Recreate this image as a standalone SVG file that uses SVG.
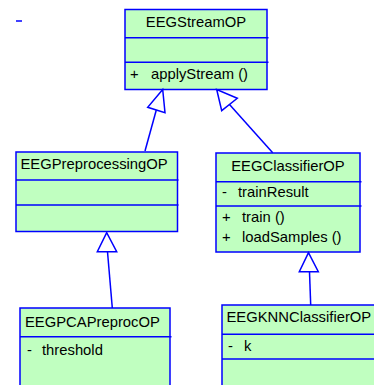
<svg xmlns="http://www.w3.org/2000/svg" width="374" height="385" viewBox="0 0 374 385">
<style>
.box{fill:#C0FFC0;stroke:#0000FF;stroke-width:1.5}
.div{stroke:#0000FF;stroke-width:1.5}
.t{font-family:"Liberation Sans",Arial,sans-serif;font-size:14.8px;fill:#000}
.c{stroke:#0000FF;stroke-width:1.5;fill:none}
.head{fill:#FFFFFF;stroke:#0000FF;stroke-width:1.5}
</style>
<rect width="374" height="385" fill="#FFFFFF"/>
<line x1="16" y1="21" x2="22" y2="21" stroke="#0000FF" stroke-width="1.5"/>
<g id="EEGStreamOP">
<rect class="box" x="125" y="9.5" width="142" height="80"/>
<line class="div" x1="125" y1="37.7" x2="268.5" y2="37.7"/>
<line class="div" x1="125" y1="62.3" x2="268.5" y2="62.3"/>
<text class="t" x="196" y="27" text-anchor="middle">EEGStreamOP</text>
<text class="t" x="130" y="78.5">+</text>
<text class="t" x="151" y="78.5">applyStream ()</text>
</g>
<g id="EEGPreprocessingOP">
<rect class="box" x="16" y="152" width="161.5" height="79.5"/>
<line class="div" x1="16" y1="180" x2="178.5" y2="180"/>
<line class="div" x1="16" y1="205" x2="178.5" y2="205"/>
<text class="t" x="20.5" y="168.5">EEGPreprocessingOP</text>
</g>
<g id="EEGClassifierOP">
<rect class="box" x="216" y="153" width="144" height="99"/>
<line class="div" x1="216" y1="181.7" x2="361.5" y2="181.7"/>
<line class="div" x1="216" y1="206" x2="361.5" y2="206"/>
<text class="t" x="288" y="170.5" text-anchor="middle">EEGClassifierOP</text>
<text class="t" x="222" y="197">-</text>
<text class="t" x="238" y="197">trainResult</text>
<text class="t" x="222" y="222">+</text>
<text class="t" x="242" y="222">train ()</text>
<text class="t" x="222" y="242">+</text>
<text class="t" x="242" y="242">loadSamples ()</text>
</g>
<g id="EEGPCAPreprocOP">
<rect class="box" x="20" y="308" width="150" height="90"/>
<line class="div" x1="20" y1="336.7" x2="171.5" y2="336.7"/>
<text class="t" x="25" y="327">EEGPCAPreprocOP</text>
<text class="t" x="27" y="354.5">-</text>
<text class="t" x="42" y="354.5">threshold</text>
</g>
<g id="EEGKNNClassifierOP">
<rect class="box" x="222" y="305" width="170" height="95"/>
<line class="div" x1="222" y1="334.3" x2="392" y2="334.3"/>
<line class="div" x1="222" y1="359" x2="392" y2="359"/>
<text class="t" x="226.5" y="322">EEGKNNClassifierOP</text>
<text class="t" x="228" y="350.5">-</text>
<text class="t" x="244" y="350.5">k</text>
</g>
<g id="connectors">
<line class="c" x1="145" y1="151" x2="156.3" y2="110"/>
<polygon class="head" points="162.7,89.5 147.7,107.3 165,112.7"/>
<line class="c" x1="272.7" y1="152.7" x2="229.5" y2="104.5"/>
<polygon class="head" points="216.7,89.5 221.7,110.7 237.3,98.3"/>
<line class="c" x1="112.3" y1="308" x2="107.5" y2="251.7"/>
<polygon class="head" points="106.7,232.7 97.3,251.7 116.7,251.7"/>
<line class="c" x1="310.7" y1="305" x2="309.5" y2="271.7"/>
<polygon class="head" points="308.5,252.7 299.3,271.7 318.3,271.7"/>
</g>
</svg>
